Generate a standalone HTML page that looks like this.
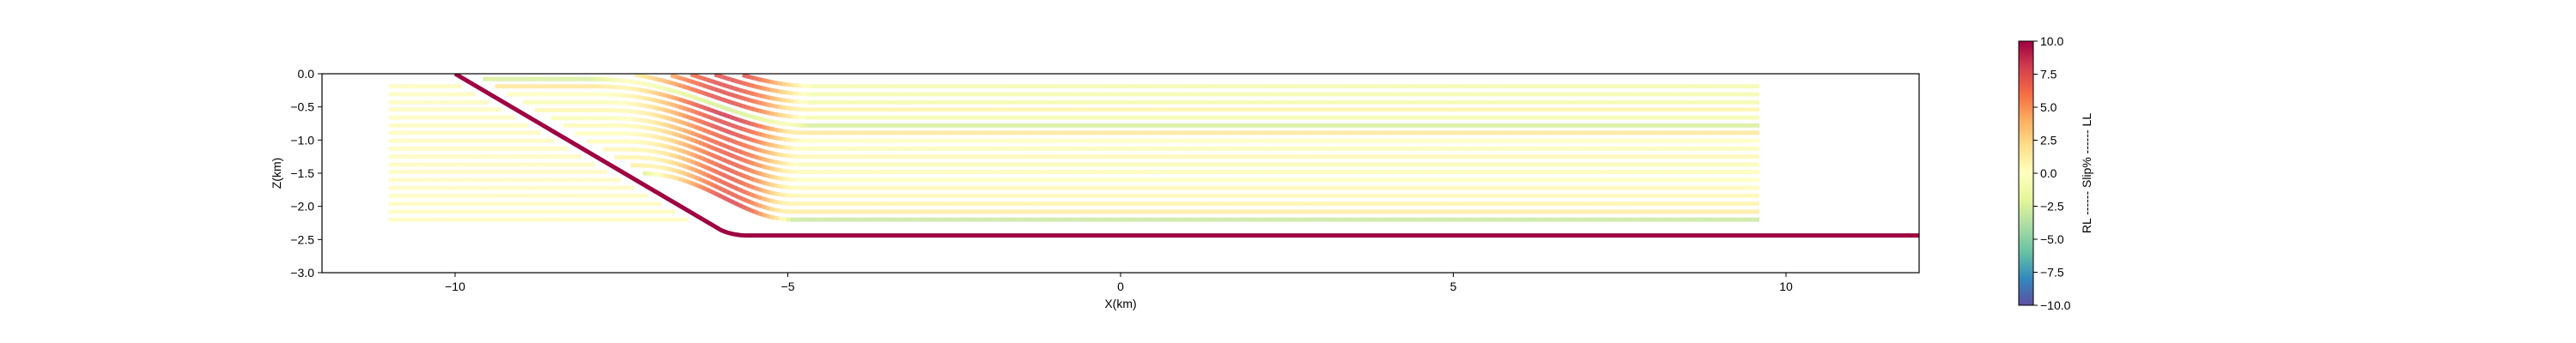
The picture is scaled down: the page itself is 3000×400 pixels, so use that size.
<!DOCTYPE html>
<html><head><meta charset="utf-8"><style>
html,body{margin:0;padding:0;background:#fff;}
svg{display:block;font-family:"Liberation Sans","DejaVu Sans",sans-serif;}
</style></head><body>
<svg id="chart" width="3000" height="400" viewBox="0 0 3000 400" xmlns="http://www.w3.org/2000/svg">
<defs>
<linearGradient id="spec" x1="0" y1="1" x2="0" y2="0">
<stop offset="0" stop-color="#5e4fa2"/><stop offset="0.1" stop-color="#3288bd"/><stop offset="0.2" stop-color="#66c2a5"/><stop offset="0.3" stop-color="#abdda4"/><stop offset="0.4" stop-color="#e6f598"/><stop offset="0.5" stop-color="#ffffbf"/><stop offset="0.6" stop-color="#fee08b"/><stop offset="0.7" stop-color="#fdae61"/><stop offset="0.8" stop-color="#f46d43"/><stop offset="0.9" stop-color="#d53e4f"/><stop offset="1" stop-color="#9e0142"/>
</linearGradient>
<clipPath id="plotclip"><rect x="375" y="86" width="1860" height="232"/></clipPath>
</defs>
<g id="marks" clip-path="url(#plotclip)"></g>
<rect x="375" y="86" width="1860" height="232" fill="none" stroke="#000" stroke-width="1.2"/>
<g id="axes"></g>
<text x="1305" y="359" font-size="14" text-anchor="middle">X(km)</text>
<text transform="translate(327,202) rotate(-90)" font-size="14" text-anchor="middle">Z(km)</text>
<rect x="2351" y="48" width="17" height="308" fill="url(#spec)" stroke="#000" stroke-width="1"/>
<g id="cbaxis"></g>
<text transform="translate(2435,202) rotate(-90)" font-size="14" text-anchor="middle">RL ------ Slip% ------ LL</text>
</svg>
<script>
const xTicks=[-10,-5,0,5,10];
const yTicks=[0,-0.5,-1,-1.5,-2,-2.5,-3];
const cbTicks=[10,7.5,5,2.5,0,-2.5,-5,-7.5,-10];
const layerDepths=[-0.19,-0.31,-0.43,-0.54,-0.66,-0.78,-0.89,-1.01,-1.13,-1.25,-1.37,-1.48,-1.60,-1.72,-1.84,-1.96,-2.08,-2.20];
const flatSlip=[-1,-1,-1,0.8,-0.8,-2.5,1.5,0,-0.5,0.5,-0.5,0.3,0,0.3,0.5,0.8,1.2,-3];
const bendSlip=[10,9,9,9,9,-3,10,9,9,8,8,8,8,8,8,8,8,9];
const footSlip=[0.4,0.4,0.4,0.4,0.4,0.4,0.4,0.4,0.4,0.4,0.4,0.4,0.4,0.4,0.4,0.4,0.4,0.4];
const faultTop=[-10,0], faultKnee=[-6.0,-2.36], faultBase=[-5.6,-2.44];
const throwD=0.7, foldLeft=-8.3, foldRight=-4.6, xMinFoot=-11, xMaxHang=9.6;

const NS="http://www.w3.org/2000/svg";
const sx=x=>1305+(x)*77.5, sy=z=>86+(-z)*77.33;
const stops=["#5e4fa2","#3288bd","#66c2a5","#abdda4","#e6f598","#ffffbf","#fee08b","#fdae61","#f46d43","#d53e4f","#9e0142"].map(h=>[1,3,5].map(i=>parseInt(h.substr(i,2),16)));
function cmap(v){let t=(Math.max(-10,Math.min(10,v))+10)/20*10;let i=Math.min(9,Math.floor(t)),f=t-i;const a=stops[i],b=stops[i+1];return `rgb(${a.map((c,j)=>Math.round(c+(b[j]-c)*f)).join(',')})`;}
const marks=document.getElementById('marks');
function seg(x1,z1,x2,z2,v,w,op){const l=document.createElementNS(NS,'line');
l.setAttribute('x1',sx(x1));l.setAttribute('y1',sy(z1));l.setAttribute('x2',sx(x2));l.setAttribute('y2',sy(z2));
l.setAttribute('stroke',cmap(v));l.setAttribute('stroke-width',w);l.setAttribute('stroke-opacity',op);


marks.appendChild(l);}
const slope=(faultTop[1]-faultKnee[1])/(faultKnee[0]-faultTop[0]);
function faultX(z){return faultTop[0]+(faultTop[1]-z)/slope;}
function s(x,k){const fl=foldLeft+k*0.06, fr=foldRight-k*0.02;if(x<=fl)return 1;if(x>=fr)return 0;const t=(x-fl)/(fr-fl);return 0.5*(1+Math.cos(Math.PI*Math.pow(t,1.15)));}
const dx=0.06;
layerDepths.forEach((z,k)=>{
  const xe=faultX(z)-0.22;
  for(let x=xMinFoot;x<xe;x+=dx){seg(x,z,Math.min(x+dx,xe),z,footSlip[k],5,0.75);}
  const zf=x=>z+throwD*s(x,k);
  let maxd=0;for(let x=-9;x<-4;x+=0.01){maxd=Math.max(maxd,(zf(x)-zf(x+0.01))/0.01);}
  for(let x=-10;x<xMaxHang;x+=dx){
    const x2=Math.min(x+dx,xMaxHang),z1=zf(x),z2=zf(x2);
    if(z1>-0.01||x<faultX(z1)+0.25)continue;
    const d=(z1-z2)/dx/maxd;
    const skew=Math.min(1,Math.max(0,(x+7.8)/2.4));
    const v=flatSlip[k]*(1-Math.min(1,d*3))+bendSlip[k]*Math.pow(d,1.6)*(0.35+0.65*skew);
    seg(x,z1,x2,z2,v,5,0.85);
  }
});
const f=document.createElementNS(NS,'path');
f.setAttribute('d',`M${sx(faultTop[0])},${sy(faultTop[1])} L${sx(faultKnee[0])},${sy(faultKnee[1])} Q${sx(faultKnee[0]+0.18)},${sy(faultBase[1])} ${sx(faultBase[0])},${sy(faultBase[1])} L${sx(12.5)},${sy(faultBase[1])}`);
f.setAttribute('fill','none');f.setAttribute('stroke','#9e0142');f.setAttribute('stroke-width','5');


marks.appendChild(f);
const ax=document.getElementById('axes');
function add(tag,attrs,txt){const e=document.createElementNS(NS,tag);for(const k in attrs)e.setAttribute(k,attrs[k]);if(txt!==undefined)e.textContent=txt;return e;}
xTicks.forEach(t=>{const g=add('g',{});


g.appendChild(add('line',{x1:sx(t),x2:sx(t),y1:318,y2:323,stroke:'#000','stroke-width':1}));
g.appendChild(add('text',{x:sx(t),y:339,'font-size':14,'text-anchor':'middle'},t<0?'\u2212'+(-t):String(t)));ax.appendChild(g);});
yTicks.forEach(t=>{const g=add('g',{});


g.appendChild(add('line',{x1:370,x2:375,y1:sy(t),y2:sy(t),stroke:'#000','stroke-width':1}));
g.appendChild(add('text',{x:366,y:sy(t)+5,'font-size':14,'text-anchor':'end'},(t<0?'\u2212':'')+Math.abs(t).toFixed(1)));ax.appendChild(g);});
const cb=document.getElementById('cbaxis');
cbTicks.forEach(t=>{const y=48+(10-t)/20*308;const g=add('g',{});


g.appendChild(add('line',{x1:2368,x2:2373,y1:y,y2:y,stroke:'#000','stroke-width':1}));
g.appendChild(add('text',{x:2376,y:y+5,'font-size':14},(t<0?'\u2212':'')+Math.abs(t).toFixed(1)));cb.appendChild(g);});
</script>
</body></html>
